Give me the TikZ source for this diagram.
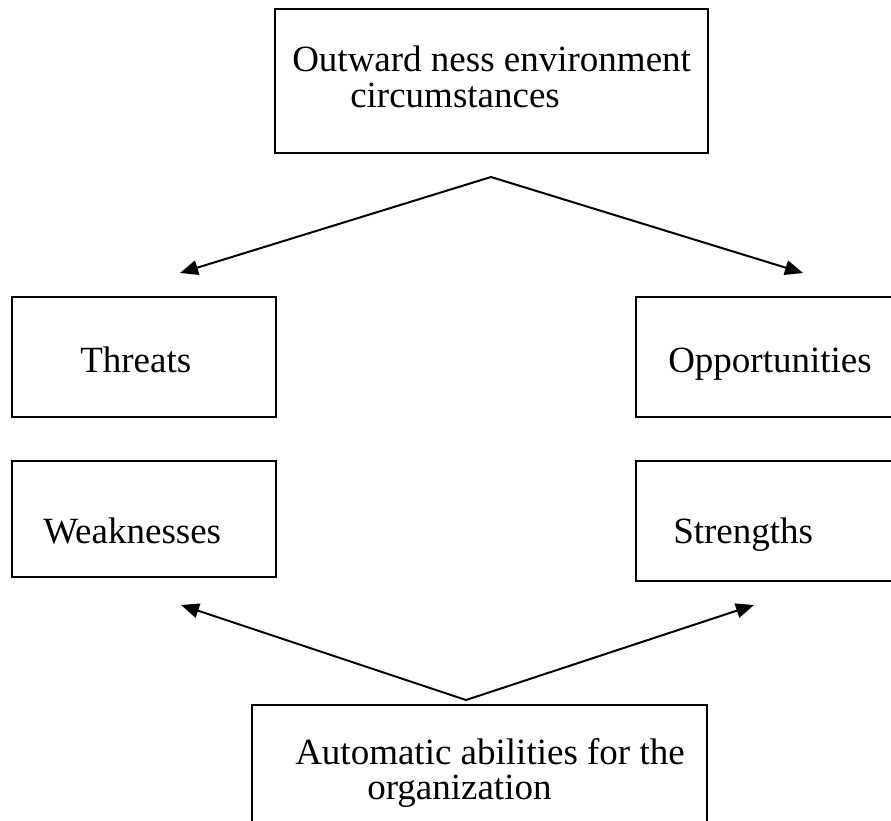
\documentclass[tikz,border=0pt]{standalone}
\usepackage{fontspec}
\setmainfont{Liberation Serif}
\usetikzlibrary{arrows.meta}
\begin{document}
\begin{tikzpicture}[x=0.75pt,y=-0.75pt,
  box/.style={draw=black, line width=1.5pt, rectangle, inner sep=0pt},
  boxtext/.style={anchor=base west, inner sep=0pt, font=\fontsize{27.75pt}{33pt}\selectfont},
  link/.style={line width=1.5pt, -{Triangle[length=13.5pt,width=11pt]}}]
\useasboundingbox (0,0) rectangle (891,820);
\clip (0,0) rectangle (891,820);

% boxes
\node[box, minimum width=324.75pt, minimum height=108pt] (env) at (491.5,81) {};
\node[box, minimum width=198pt, minimum height=90pt] (threats) at (144,357) {};
\node[box, minimum width=198pt, minimum height=87pt] (weak) at (144,519) {};
\node[box, minimum width=198pt, minimum height=90pt] (opp) at (768,357) {};
\node[box, minimum width=198pt, minimum height=90pt] (strength) at (768,521) {};
\node[box, minimum width=341.25pt, minimum height=93.75pt] (org) at (479.5,767.5) {};

% texts
\node[boxtext] (envA) at (292,72) {Outward ness environment};
\node[boxtext] (envB) at (350,108) {circumstances};
\node[boxtext] (threatsT) at (80,372) {Threats};
\node[boxtext] (oppT) at (668,372) {Opportunities};
\node[boxtext] (weakT) at (43,543) {Weaknesses};
\node[boxtext] (strengthT) at (673,543) {Strengths};
\node[boxtext] (orgA) at (295,764) {Automatic abilities for the};
\node[boxtext] (orgB) at (367,799) {organization};

% connector ends
\coordinate (topfork) at (491,177);
\coordinate (tipT) at (180,273);
\coordinate (tipO) at (803,273);
\coordinate (botfork) at (466,700);
\coordinate (tipW) at (181,605);
\coordinate (tipS) at (754,605);

% arrows
\draw[link] (topfork) -- (tipT);
\draw[link] (topfork) -- (tipO);
\draw[link] (botfork) -- (tipW);
\draw[link] (botfork) -- (tipS);
\end{tikzpicture}
\end{document}
